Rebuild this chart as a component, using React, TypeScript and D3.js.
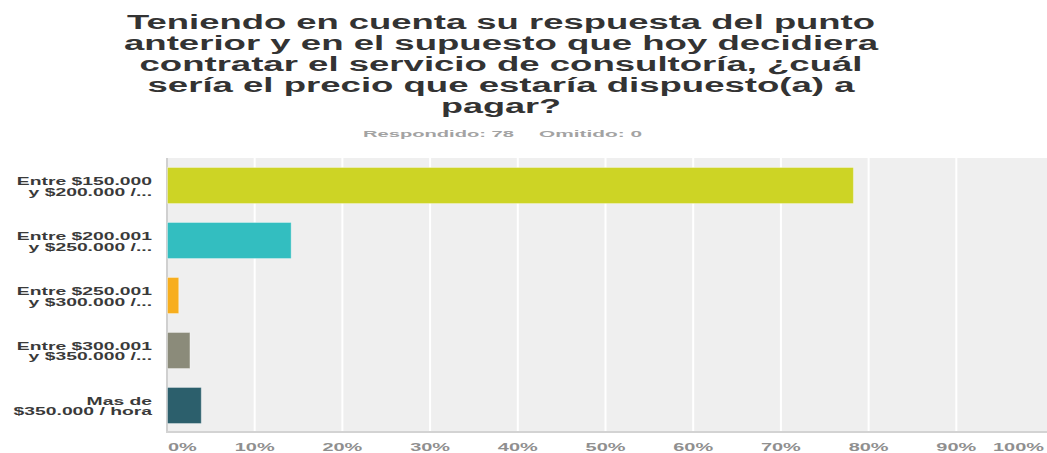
import React from "react";
import * as d3 from "d3";

const W = 1047;
const H = 453;

const titleLines = [
  "Teniendo en cuenta su respuesta del punto",
  "anterior y en el supuesto que hoy decidiera",
  "contratar el servicio de consultoría, ¿cuál",
  "sería el precio que estaría dispuesto(a) a",
  "pagar?",
];
const titleLineLengths = [748, 754, 723, 707, 120];

const answeredLabel = "Respondido: 78";
const skippedLabel = "Omitido: 0";

const categories = ["c1", "c2", "c3", "c4", "c5"];
const categoryLabels: string[][] = [
  ["Entre $150.000", "y $200.000 /..."],
  ["Entre $200.001", "y $250.000 /..."],
  ["Entre $250.001", "y $300.000 /..."],
  ["Entre $300.001", "y $350.000 /..."],
  ["Mas de", "$350.000 / hora"],
];
const values = [78.21, 14.1, 1.28, 2.56, 3.85];
const colors = ["#cdd425", "#33bec0", "#f7ae1e", "#8b8b7a", "#2c5f6c"];
const ticks = [0, 10, 20, 30, 40, 50, 60, 70, 80, 90, 100];
const tickLabels = ticks.map((t) => `${t}%`);

export default function App() {
  const plotLeft = 167;
  const plotRight = 1044;
  const plotTop = 158;
  const plotBottom = 433;

  const x = d3.scaleLinear().domain([0, 100]).range([plotLeft, plotRight]);
  const y = d3
    .scaleBand<string>()
    .domain(categories)
    .range([plotTop, plotBottom])
    .paddingInner(0.345)
    .paddingOuter(0.1727);

  const font = "'Liberation Sans', Arial, Helvetica, sans-serif";
  const labelSx = 1.84;
  const tickSx = 1.9;

  return (
    <svg
      width={W}
      height={H}
      style={{ position: "absolute", left: 0, top: 0, display: "block" }}
      fontFamily={font}
    >
      <rect x={0} y={0} width={W} height={H} fill="#ffffff" />
      {titleLines.map((line, i) => (
        <text
          key={i}
          x={501}
          y={28.5 + i * 21}
          textAnchor="middle"
          fontSize={20}
          fontWeight="bold"
          fill="#333333"
          textLength={titleLineLengths[i]}
          lengthAdjust="spacingAndGlyphs"
        >
          {line}
        </text>
      ))}
      <text
        x={363}
        y={136.5}
        fontSize={9.5}
        fontWeight="bold"
        fill="#a3a3a3"
        textLength={151}
        lengthAdjust="spacingAndGlyphs"
      >
        {answeredLabel}
      </text>
      <text
        x={539}
        y={136.5}
        fontSize={9.5}
        fontWeight="bold"
        fill="#a3a3a3"
        textLength={103}
        lengthAdjust="spacingAndGlyphs"
      >
        {skippedLabel}
      </text>

      <rect
        x={plotLeft}
        y={plotTop}
        width={W - plotLeft}
        height={plotBottom - plotTop}
        fill="#efefef"
      />
      {ticks.slice(1, -1).map((t) => (
        <line
          key={t}
          x1={x(t)}
          x2={x(t)}
          y1={plotTop}
          y2={plotBottom}
          stroke="#ffffff"
          strokeWidth={2}
        />
      ))}
      <line x1={plotLeft} x2={plotLeft} y1={plotTop} y2={plotBottom} stroke="#d0d0d0" strokeWidth={2} />
      <line x1={plotLeft - 1} x2={W} y1={plotBottom - 1} y2={plotBottom - 1} stroke="#d3d3d3" strokeWidth={2} />

      {categories.map((c, i) => {
        const y0 = y(c) as number;
        return (
          <rect
            key={c}
            x={x(0) + 0.5}
            y={y0}
            width={x(values[i]) - x(0)}
            height={y.bandwidth()}
            fill={colors[i]}
            stroke="#ffffff"
            strokeOpacity={0.35}
            strokeWidth={1}
          />
        );
      })}

      {categories.map((c, i) => {
        const cy = (y(c) as number) + y.bandwidth() / 2;
        return (
          <g key={c}>
            {categoryLabels[i].map((ln, j) => (
              <text
                key={j}
                transform={`translate(152,${cy - 0.5 + j * 10.5}) scale(${labelSx},1)`}
                textAnchor="end"
                fontSize={10.5}
                fontWeight="bold"
                fill="#3a3a3a"
              >
                {ln}
              </text>
            ))}
          </g>
        );
      })}

      {ticks.map((t, i) => (
        <text
          key={t}
          transform={`translate(${i === 0 ? x(t) + 1 : x(t)},451) scale(${tickSx},1)`}
          textAnchor={i === 0 ? "start" : i === ticks.length - 1 ? "end" : "middle"}
          fontSize={10.5}
          fontWeight="bold"
          fill="#8f8f8f"
        >
          {tickLabels[i]}
        </text>
      ))}
    </svg>
  );
}
